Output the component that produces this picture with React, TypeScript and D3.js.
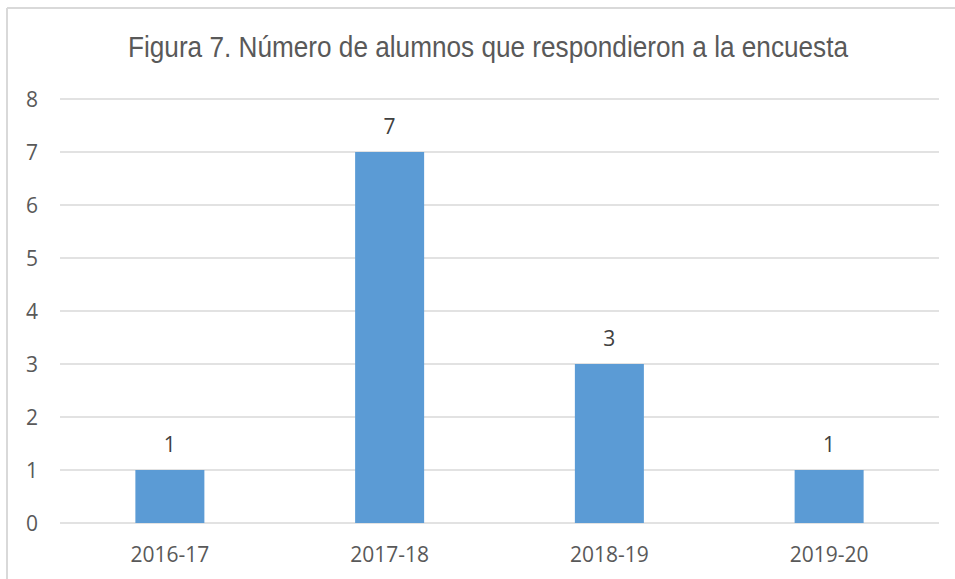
import React from 'react';
import * as d3 from 'd3';

const categories = ['2016-17', '2017-18', '2018-19', '2019-20'];
const values = [1, 7, 3, 1];
const yTicks = [0, 1, 2, 3, 4, 5, 6, 7, 8];
const title = 'Figura 7. Número de alumnos que respondieron a la encuesta';

const W = 955;
const H = 579;
const margin = { top: 99, right: 16, bottom: 56, left: 60 };

const App = () => {
  const plotW = W - margin.left - margin.right;
  const plotH = H - margin.top - margin.bottom;

  const x = d3.scaleBand().domain(categories).range([0, plotW]).padding(0);
  const y = d3.scaleLinear().domain([0, 8]).range([plotH, 0]);
  const barW = x.bandwidth() * 0.314;

  return (
    <svg width={W} height={H} style={{ position: 'absolute', left: 0, top: 0, background: '#fff' }}>
      <rect x={0} y={0} width={W} height={H} fill="#fff" />
      {/* chart border (only top and left visible) */}
      <line x1={7} y1={8} x2={W} y2={8} stroke="#d9d9d9" strokeWidth={2} />
      <line x1={7} y1={8} x2={7} y2={H} stroke="#d9d9d9" strokeWidth={2} />

      <text
        x={488}
        y={57}
        textAnchor="middle"
        fontFamily="'Liberation Sans Narrow', 'Liberation Sans', Arial, sans-serif"
        fontSize={30}
        textLength={720}
        lengthAdjust="spacingAndGlyphs"
        fill="#595959"
      >
        {title}
      </text>

      <g transform={`translate(${margin.left},${margin.top})`}>
        {yTicks.map(t => (
          <g key={t}>
            <line x1={0} x2={plotW} y1={y(t)} y2={y(t)} stroke="#d9d9d9" strokeWidth={1.5} />
            <text
              x={-22}
              y={y(t)}
              dy="0.36em"
              textAnchor="end"
              fontFamily="'Open Sans', sans-serif"
              fontSize={21}
              fill="#595959"
            >
              {t}
            </text>
          </g>
        ))}

        {categories.map((c, i) => {
          const cx = (x(c) as number) + x.bandwidth() / 2;
          return (
            <g key={c}>
              <rect
                x={cx - barW / 2}
                y={y(values[i])}
                width={barW}
                height={y(0) - y(values[i])}
                fill="#5b9bd5"
              />
              <text
                x={cx}
                y={y(values[i]) - 18}
                textAnchor="middle"
                fontFamily="'Open Sans', sans-serif"
                fontSize={21}
                fill="#404040"
              >
                {values[i]}
              </text>
              <text
                x={cx}
                y={plotH + 39}
                textAnchor="middle"
                fontFamily="'Open Sans', sans-serif"
                fontSize={21}
                fill="#595959"
              >
                {c}
              </text>
            </g>
          );
        })}
      </g>
    </svg>
  );
};

export default App;
